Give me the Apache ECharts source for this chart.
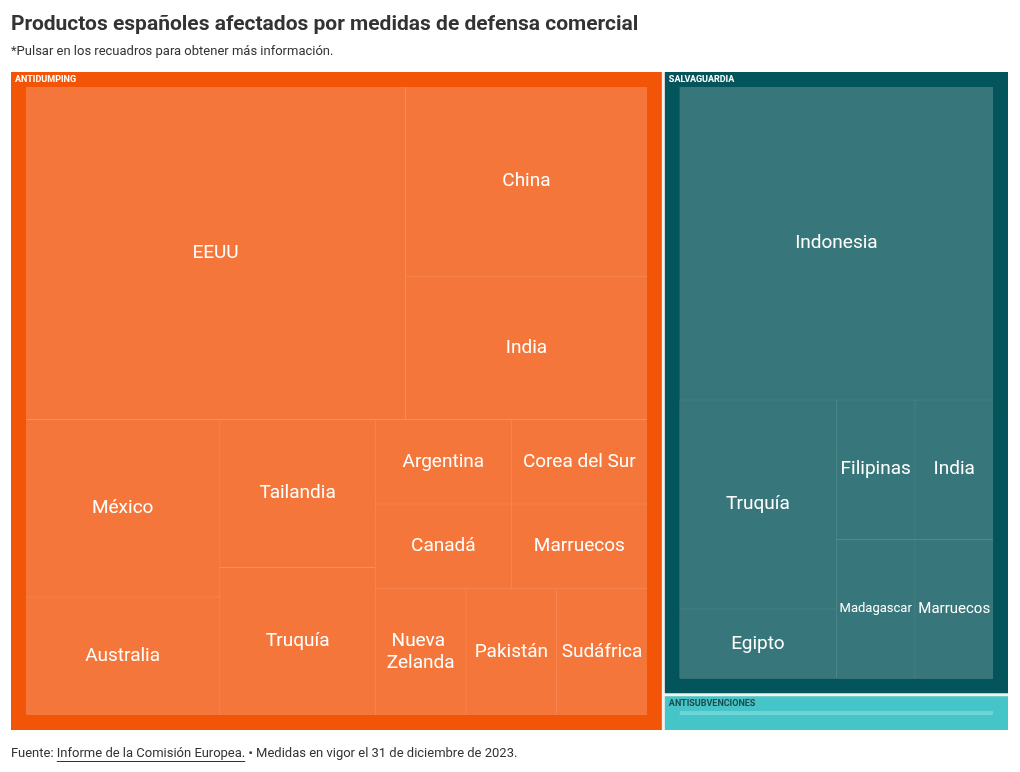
<!DOCTYPE html>
<html>
<head>
<meta charset="utf-8">
<script src="https://cdn.jsdelivr.net/npm/echarts@6/dist/echarts.min.js"></script>
<style>
html,body{margin:0;padding:0;background:#fff;}
#chart{width:1020px;height:772px;}
</style>
</head>
<body>
<div id="chart"></div>
<script>
// ---- data ----
const groups = ['ANTIDUMPING', 'SALVAGUARDIA', 'ANTISUBVENCIONES'];
const antidumpingCountries = ['EEUU', 'China', 'India', 'México', 'Australia', 'Tailandia', 'Truquía',
  'Argentina', 'Canadá', 'Corea del Sur', 'Marruecos', 'Nueva Zelanda', 'Pakistán', 'Sudáfrica'];
const antidumpingValues = [11, 4, 3, 3, 2, 2, 2, 1, 1, 1, 1, 1, 1, 1];
const salvaguardiaCountries = ['Indonesia', 'Truquía', 'Egipto', 'Filipinas', 'India', 'Madagascar', 'Marruecos'];
const salvaguardiaValues = [9, 3, 1, 1, 1, 1, 1];
const antisubvencionesCountries = ['EEUU'];
const antisubvencionesValues = [1];

const titleText = 'Productos españoles afectados por medidas de defensa comercial';
const subtitleText = '*Pulsar en los recuadros para obtener más información.';
const sourcePrefix = 'Fuente: ';
const sourceLink = 'Informe de la Comisión Europea.';
const sourceSuffix = ' • Medidas en vigor el 31 de diciembre de 2023.';

// ---- styles ----
const FONT = 'Roboto, "Noto Sans", sans-serif';
const palette = {
  ANTIDUMPING:      { border: '#F35508', leaf: '#F4763A', line: '#F68E5E', label: '#ffffff' },
  SALVAGUARDIA:     { border: '#03555B', leaf: '#37767A', line: '#52898D', label: '#ffffff' },
  ANTISUBVENCIONES: { border: '#45C5C7', leaf: '#6FD4D6', line: '#8ADDDF', label: '#1E4A4E' }
};
const labelStyleOverride = {
  'SALVAGUARDIA/Madagascar': { fontSize: 13, overflow: 'none' },
  'SALVAGUARDIA/Marruecos': { fontSize: 15 },
  'ANTISUBVENCIONES/EEUU': { show: false }
};

// ---- build tree (binary partition of ordered items, laid out by ECharts) ----
function binaryTree(leaves, pal) {
  if (leaves.length === 1) return leaves[0];
  const sums = [0];
  leaves.forEach(l => sums.push(sums[sums.length - 1] + l.value));
  const total = sums[sums.length - 1];
  const target = total / 2;
  let k = 1;
  while (k < leaves.length - 1 && sums[k] < target) k++;
  if ((target - sums[k - 1]) < (sums[k] - target) && k > 1) k--;
  return {
    name: '',
    value: total,
    children: [binaryTree(leaves.slice(0, k), pal), binaryTree(leaves.slice(k), pal)],
    itemStyle: { borderWidth: 0, gapWidth: 1, borderColor: pal.line, color: pal.line },
    upperLabel: { show: false },
    label: { show: false }
  };
}

function buildGroup(groupName, names, values) {
  const pal = palette[groupName];
  const leaves = names.map((n, i) => ({
    name: n,
    value: values[i],
    itemStyle: { color: pal.leaf, borderWidth: 0, borderColor: pal.leaf, gapWidth: 0 },
    label: Object.assign({ show: true }, labelStyleOverride[groupName + '/' + n] || {})
  }));
  const total = values.reduce((a, b) => a + b, 0);
  return {
    name: groupName,
    value: total,
    children: [binaryTree(leaves, pal)],
    itemStyle: { borderWidth: 15, gapWidth: 0, borderColor: pal.border, color: pal.border },
    upperLabel: { show: true, color: pal.label }
  };
}

const treeData = [
  buildGroup(groups[0], antidumpingCountries, antidumpingValues),
  buildGroup(groups[1], salvaguardiaCountries, salvaguardiaValues),
  buildGroup(groups[2], antisubvencionesCountries, antisubvencionesValues)
];

// ---- measure footer text for the underline ----
const ctx = document.createElement('canvas').getContext('2d');
ctx.font = '13px ' + FONT;
const wPrefix = ctx.measureText(sourcePrefix).width;
const wLink = ctx.measureText(sourceLink).width;

const chart = echarts.init(document.getElementById('chart'), null, { renderer: 'canvas' });
chart.setOption({
  animation: false,
  backgroundColor: '#ffffff',
  title: {
    text: titleText,
    subtext: subtitleText,
    left: 11,
    top: 14,
    padding: 0,
    itemGap: 10,
    textStyle: { fontFamily: FONT, fontSize: 21, fontWeight: 'bold', color: '#333333' },
    subtextStyle: { fontFamily: FONT, fontSize: 13, color: '#333333' }
  },
  tooltip: { show: false },
  series: [{
    type: 'treemap',
    left: 11,
    top: 72,
    width: 997,
    height: 658,
    roam: false,
    nodeClick: false,
    sort: false,
    squareRatio: 1,
    breadcrumb: { show: false },
    visibleMin: 1,
    itemStyle: { borderWidth: 0, gapWidth: 0, borderColor: '#ffffff' },
    label: {
      show: true,
      position: 'inside',
      padding: 0,
      color: '#ffffff',
      fontFamily: FONT,
      fontSize: 19,
      lineHeight: 22,
      overflow: 'break'
    },
    upperLabel: {
      show: false,
      height: 15,
      padding: 0,
      position: [-11, '50%'],
      fontFamily: FONT,
      fontSize: 9,
      fontWeight: 'bold',
      color: '#ffffff'
    },
    levels: [
      { itemStyle: { borderWidth: 0, gapWidth: 3, borderColor: '#f4f1ee' } }
    ],
    data: treeData
  }],
  graphic: [
    {
      type: 'text',
      left: 11,
      top: 747,
      style: {
        text: sourcePrefix + sourceLink + sourceSuffix,
        font: '13px ' + FONT,
        fill: '#333333'
      }
    },
    {
      type: 'line',
      shape: { x1: 11 + wPrefix, y1: 761.5, x2: 11 + wPrefix + wLink, y2: 761.5 },
      style: { stroke: '#333333', lineWidth: 1 }
    }
  ]
});
</script>
</body>
</html>
